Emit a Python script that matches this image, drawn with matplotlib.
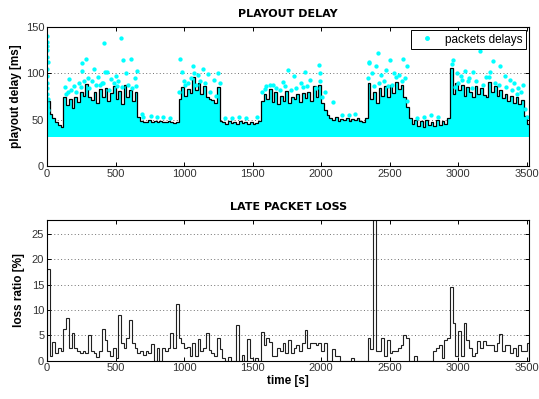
#!/usr/bin/env python3
# -*- coding: utf-8 -*-

import numpy as np
import matplotlib
matplotlib.use('Agg')
import matplotlib.pyplot as plt

# 20 s bins over the whole session
BIN = 20
T_END = 3520

# playout delay per bin [ms]
playout_delay = [
    70, 56, 52, 47, 44, 42, 74, 66, 72, 63, 75, 69, 80, 76, 89, 74, 71, 80, 68, 83,
    75, 84, 70, 79, 86, 72, 81, 67, 87, 74, 82, 70, 80, 53, 49, 48, 47, 50, 48, 49,
    47, 49, 48, 47, 49, 48, 46, 47, 72, 85, 76, 83, 79, 96, 82, 90, 78, 86, 74, 72,
    71, 68, 85, 49, 47, 45, 49, 46, 48, 45, 49, 46, 47, 45, 48, 45, 46, 49, 70, 78,
    72, 83, 69, 80, 67, 76, 70, 81, 68, 75, 72, 78, 69, 79, 73, 80, 70, 86, 75, 88,
    68, 60, 55, 52, 50, 53, 49, 51, 50, 52, 49, 51, 50, 52, 49, 48, 52, 90, 72, 80,
    68, 84, 76, 86, 74, 88, 79, 91, 83, 87, 75, 64, 52, 45, 50, 43, 49, 42, 50, 44,
    48, 43, 50, 44, 49, 45, 52, 106, 78, 90, 82, 88, 76, 85, 80, 74, 86, 78, 84, 77,
    75, 91, 80, 86, 76, 82, 73, 78, 70, 76, 68, 74, 67, 71, 54, 45,
]
# lower edge of the dense packet cloud [ms]
delay_floor = 31.5

# single packets standing out above the cloud (time [s], delay [ms])
outlier_t = [
    2, 2, 2, 3, 2, 4, 2, 3, 2, 3, 2, 4, 3, 5, 3,
    128, 150, 163, 200, 230, 253, 258, 285, 300, 330, 345, 375, 400, 418, 423,
    438, 470, 500, 520, 538, 557, 575, 613, 640, 659, 690, 760, 850, 900,
    971, 985, 1000, 1050, 1063, 1100, 1141, 1178, 1215, 1250, 1262, 1300, 1450, 1530,
    1600, 1650, 1720, 1761, 1803, 1850, 1883, 1920, 1988, 1990, 1995, 2030, 2090, 2200,
    2350, 2353, 2370, 2400, 2413, 2440, 2470, 2504, 2530, 2571, 2601, 2625, 2610, 2700, 2850,
    2961, 2990, 3020, 3051, 3080, 3112, 3161, 3200, 3234, 3253, 3307, 3340, 3380, 3410,
    3440, 3470, 3500, 3515,
]
outlier_v = [
    140, 134, 130, 125, 118, 112, 105, 97, 90, 84, 78, 72, 66, 60, 36,
    85, 80, 94, 86, 90, 103, 111, 116, 95, 92, 105, 96, 90, 133, 102,
    101, 94, 97, 92, 138, 114, 100, 116, 95, 103, 56, 54, 53, 52,
    116, 102, 92, 95, 108, 98, 105, 99, 93, 100, 90, 52, 52, 53,
    86, 88, 91, 104, 97, 90, 102, 93, 109, 100, 92, 80, 69, 55,
    112, 111, 100, 108, 122, 98, 104, 115, 100, 98, 116, 108, 95, 52, 53,
    115, 100, 97, 103, 95, 102, 124, 96, 102, 113, 108, 97, 93, 90,
    84, 88, 53, 35,
]

# packets just above the playout curve (time [s], delay [ms])
fringe_t = [
    135, 175, 215, 245, 270, 310, 355, 390, 410, 450, 490, 510, 545, 590, 620, 650,
    965, 1010, 1030, 1070, 1090, 1120, 1150, 1190, 1230,
    1570, 1590, 1630, 1670, 1700, 1740, 1780, 1820, 1870, 1900, 1960, 2010,
    2345, 2385, 2420, 2460, 2490, 2520, 2550, 2590, 2630,
    2955, 2975, 3000, 3030, 3070, 3100, 3130, 3180, 3225, 3270, 3300, 3350, 3390,
    3430, 3460, 3490,
    700, 800, 1350, 1400, 2150, 2250, 2750, 2800,
]
fringe_v = [
    78, 82, 80, 85, 92, 84, 88, 87, 90, 82, 90, 86, 85, 88, 84, 86,
    80, 88, 90, 100, 88, 92, 90, 80, 76,
    80, 83, 88, 84, 82, 86, 82, 84, 85, 86, 84, 75,
    95, 86, 90, 92, 86, 88, 96, 92, 70,
    110, 85, 90, 93, 92, 84, 92, 88, 96, 90, 88, 85, 82,
    78, 80, 62,
    53, 53, 52, 53, 55, 56, 53, 55,
]

# late packet loss ratio per bin [%]
loss_ratio = [
    18, 1, 3.7, 1.5, 2.5, 2, 6.2, 8.5, 2.5, 5.5, 2.5, 2, 1.5, 2, 1.5, 5, 2, 1.5, 0.8, 2,
    6.2, 4, 2, 1, 2.5, 0.5, 9, 3.5, 2.5, 4.5, 8, 3.5, 2.5, 1.5, 2, 1.2, 2, 1.5, 3.3, 0,
    2.5, 0, 2.5, 2, 2.5, 5.5, 2.5, 11.2, 4.5, 3.5, 2.5, 2.7, 1, 3.5, 1, 4.2, 2, 2.5, 5.5, 2.2,
    1.5, 1, 4.4, 2.3, 0.5, 0, 0.8, 0, 0, 7, 0, 1.1, 0, 4.3, 0.6, 0, 0.5, 0, 5.6, 3,
    4.4, 3.7, 1, 1, 2.5, 2, 3.5, 1.5, 4, 1.5, 2.5, 3, 2, 3.5, 6, 2.5, 3.5, 3.5, 3, 3.5,
    2, 3.5, 0, 0, 2.4, 1, 1, 0, 0, 0, 0, 0.5, 0, 0, 0, 0, 0, 4.4, 2.4, 27.7,
    2, 2, 4.5, 1, 4, 1.5, 2, 2, 2.5, 3, 5, 4.5, 0, 0, 1, 0, 0, 0, 0, 0,
    0, 2, 2.5, 3, 0.5, 4, 4.5, 14.5, 7.4, 1, 5.8, 1, 7.5, 4, 2.5, 1, 1.5, 3.8, 2.5, 3.8,
    3, 3, 3, 2, 3.5, 5.3, 2, 3, 3, 1.5, 2.5, 1, 3, 2, 2, 3.5,
]

CYAN = '#00ffff'
TICK_FONT = dict(family='Liberation Sans', size=8, color='#333333')
LABEL_FONT = dict(family='Liberation Sans', size=8.5, weight='bold')
TITLE_FONT = dict(family='DejaVu Sans', size=8, weight='bold')


def style_axes(ax):
    ax.tick_params(direction='in', length=3, width=0.7, top=True, right=True,
                   labelsize=TICK_FONT['size'], labelcolor=TICK_FONT['color'], pad=2)
    for lbl in ax.get_xticklabels() + ax.get_yticklabels():
        lbl.set_family(TICK_FONT['family'])
    for sp in ax.spines.values():
        sp.set_linewidth(0.8)
    ax.yaxis.grid(True, linestyle=(0, (1, 2.5)), color='#707070', linewidth=0.7)
    ax.set_axisbelow(True)


fig = plt.figure(figsize=(5.39, 3.99), dpi=100)
edges = np.arange(0, T_END + BIN, BIN)

# --- playout delay ---
ax1 = fig.add_axes([0.0872, 0.584, 0.895, 0.348])
ax1.stairs(playout_delay, edges, baseline=delay_floor, fill=True, color=CYAN, lw=0)
ax1.plot(fringe_t, fringe_v, '.', color=CYAN, ms=4.2)
ax1.plot(outlier_t, outlier_v, '.', color=CYAN, ms=4.2, label='packets delays')
ax1.stairs(playout_delay, edges, baseline=None, color='black', lw=0.9)
ax1.set_xlim(0, T_END)
ax1.set_ylim(0, 150)
ax1.set_xticks(range(0, 3501, 500))
ax1.set_yticks([0, 50, 100, 150])
ax1.set_ylabel('playout delay [ms]', labelpad=3, **LABEL_FONT)
ax1.set_title('PLAYOUT DELAY', pad=7, **TITLE_FONT)
style_axes(ax1)
leg = ax1.legend(loc='upper right', fancybox=False, framealpha=1, edgecolor='black',
                 borderaxespad=0.25, handletextpad=0.6, borderpad=0.3,
                 markerscale=1.2, prop=dict(family='Liberation Sans', size=8.5))
leg.get_frame().set_linewidth(0.7)

# --- late packet loss ---
ax2 = fig.add_axes([0.0872, 0.096, 0.895, 0.3526])
ax2.stairs(loss_ratio, edges, baseline=0, color='#202020', lw=0.8)
ax2.set_xlim(0, T_END)
ax2.set_ylim(0, max(loss_ratio))
ax2.set_xticks(range(0, 3501, 500))
ax2.set_yticks(range(0, 26, 5))
ax2.set_ylabel('loss ratio [%]', labelpad=5, **LABEL_FONT)
ax2.set_xlabel('time [s]', labelpad=1, **LABEL_FONT)
ax2.set_title('LATE PACKET LOSS', pad=7, **TITLE_FONT)
style_axes(ax2)

fig.savefig('out.png', dpi=100)
